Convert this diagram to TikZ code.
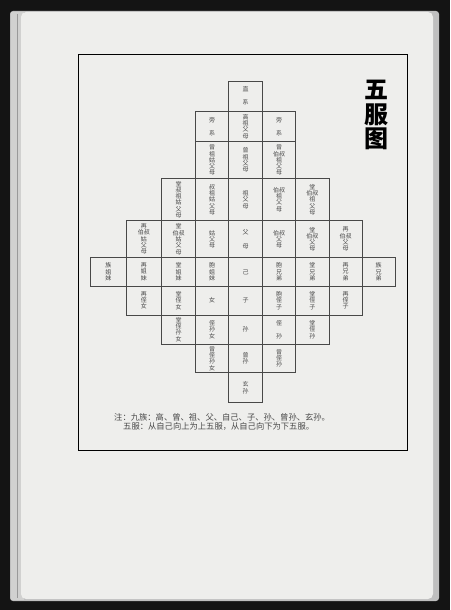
\documentclass[tikz,border=0pt]{standalone}
\usepackage{fontspec}
\setmainfont{Noto Sans CJK SC}
\definecolor{paper}{RGB}{238,238,236}
\definecolor{ink}{RGB}{72,72,72}

\begin{document}
\begin{tikzpicture}[x=1pt,y=-1pt,
  cell/.style={draw=ink,line width=0.5pt,inner sep=0pt,align=center,
    font=\fontsize{6}{6.3}\selectfont,text=ink}]
  \useasboundingbox (0,0) rectangle (450,610);
  % scanned page
  \fill[black!92] (0,0) rectangle (450,610);
  \fill[black!25,rounded corners=3pt] (10,11) rectangle (439,601);
  \fill[paper!88!black] (11,12) rectangle (24,600);
  \fill[paper,rounded corners=5pt] (21,12) rectangle (433,599);
  \draw[black!40] (17,14) -- (17,598);
  % frame
  \draw[line width=1pt] (78,55) rectangle (407,450);

  \node[font=\fontsize{24}{24.5}\selectfont\bfseries,align=center] (title) at (376,115) {五\\服\\图};

  \def\colx{{90.7,126,161.7,195.7,228.7,262.7,295.7,329,362,395.3}}
  \def\rowy{{81,111,141.7,178.3,220.7,257.7,286,315,344,372.7,402.7}}
  \foreach \r/\c/\txt in {0/4/{直\\[7pt]系},
    1/3/{旁\\[7pt]系}, 1/4/{高\\祖\\父\\母}, 1/5/{旁\\[7pt]系},
    2/3/{曾\\祖\\姑\\父\\母}, 2/4/{曾\\祖\\父\\母}, 2/5/{曾\\伯叔\\祖\\父\\母},
    3/2/{堂\\叔\\祖\\姑\\父\\母}, 3/3/{叔\\祖\\姑\\父\\母}, 3/4/{祖\\父\\母},
    3/5/{伯叔\\祖\\父\\母}, 3/6/{堂\\伯叔\\祖\\父\\母},
    4/1/{再\\伯叔\\姑\\父\\母}, 4/2/{堂\\伯叔\\姑\\父\\母}, 4/3/{姑\\父\\母},
    4/4/{父\\[7pt]母}, 4/5/{伯叔\\父\\母}, 4/6/{堂\\伯叔\\父\\母}, 4/7/{再\\伯叔\\父\\母},
    5/0/{族\\姐\\妹}, 5/1/{再\\姐\\妹}, 5/2/{堂\\姐\\妹}, 5/3/{胞\\姐\\妹}, 5/4/{己},
    5/5/{胞\\兄\\弟}, 5/6/{堂\\兄\\弟}, 5/7/{再\\兄\\弟}, 5/8/{族\\兄\\弟},
    6/1/{再\\侄\\女}, 6/2/{堂\\侄\\女}, 6/3/{女}, 6/4/{子},
    6/5/{胞\\侄\\子}, 6/6/{堂\\侄\\子}, 6/7/{再\\侄\\子},
    7/2/{堂\\侄\\孙\\女}, 7/3/{侄\\孙\\女}, 7/4/{孙}, 7/5/{侄\\[7pt]孙}, 7/6/{堂\\侄\\孙},
    8/3/{曾\\侄\\孙\\女}, 8/4/{曾\\孙}, 8/5/{曾\\侄\\孙},
    9/4/{玄\\孙}}
  {
    \pgfmathsetmacro\xa{\colx[\c]}
    \pgfmathsetmacro\xb{\colx[\c+1]}
    \pgfmathsetmacro\ya{\rowy[\r]}
    \pgfmathsetmacro\yb{\rowy[\r+1]}
    \node[cell,minimum width=\xb-\xa,minimum height=\yb-\ya] (k-\r-\c)
      at ({(\xa+\xb)/2},{(\ya+\yb)/2}) {\txt};
  }

  % note
  \node[anchor=west,inner sep=0pt,font=\fontsize{8.3}{8.3}\selectfont,text=ink] (note1) at (114,417.5)
    {注：九族：高、曾、祖、父、自己、子、孙、曾孙、玄孙。};
  \node[anchor=west,inner sep=0pt,font=\fontsize{8.3}{8.3}\selectfont,text=ink] (note2) at (123,426)
    {五服：从自己向上为上五服，从自己向下为下五服。};
\end{tikzpicture}
\end{document}
